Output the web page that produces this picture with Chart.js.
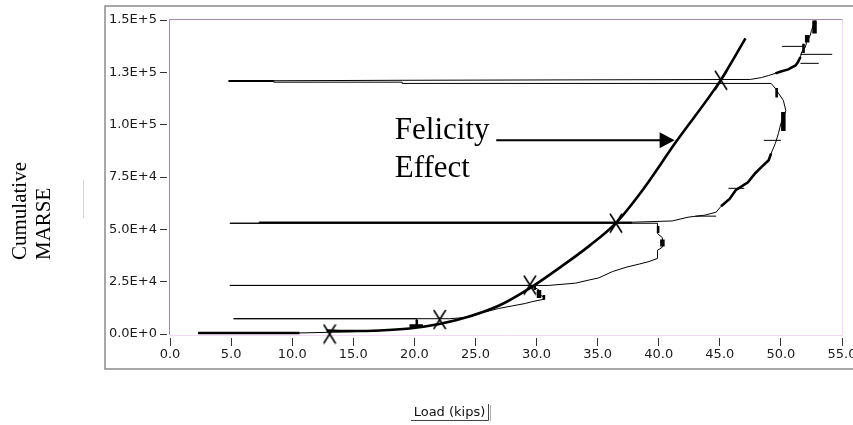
<!DOCTYPE html>
<html>
<head>
<meta charset="utf-8">
<script src="https://cdn.jsdelivr.net/npm/chart.js@4.4.1/dist/chart.umd.min.js"></script>
<style>
  html, body { margin: 0; padding: 0; background: #fff; }
  #wrap { width: 853px; height: 425px; }
</style>
</head>
<body>
<div id="wrap"><canvas id="chartMarse" width="853" height="425"></canvas></div>
<script>
// ticks
const loadTicks = [0, 5, 10, 15, 20, 25, 30, 35, 40, 45, 50, 55];
const marseTicks = [0, 25000, 50000, 75000, 100000, 125000, 150000];

// curva de efecto Felicity [carga, MARSE]
const felicityCurve = [
  [12.82, 1670], [14.69, 1430], [17.14, 1670], [19.59, 2620], [22.04, 4770],
  [24.49, 8350], [26.94, 13590], [29.39, 21700], [31.84, 31480], [34.29, 41980],
  [36.49, 52950], [38.61, 68210], [41.39, 91580], [45.06, 121160], [47.1, 141200]
];

// marcas X
const felicityMarks = [[13.06, 0], [22.07, 6900], [29.45, 23400], [36.5, 52950], [45.1, 121200]];

// MARSE acumulado (carga / descarga)
const aePath = [
  [2.3, 500], [10.6, 500], [13, 800], [15, 1100], [17.5, 1700], [19.6, 2600], [20.2, 3300],
  [20.2, 7300], [5.2, 7300], [22.9, 7300], [24.0, 7800], [24.7, 8600], [25.6, 10300],
  [25.9, 10700], [26.9, 12200], [28.0, 13400], [29.1, 14600], [29.6, 15400], [30.6, 16600],
  [30.6, 17600], [30.2, 19000], [30.2, 21000], [29.8, 22400], [29.6, 23200], [4.9, 23200],
  [31.0, 23200], [33.2, 24300], [34.3, 25800], [35.1, 26800], [36.2, 29800], [37.4, 32000],
  [38.4, 33400], [39.2, 34600], [39.9, 36100], [39.9, 40000], [40.3, 41500], [40.3, 46000],
  [39.9, 48000], [39.9, 52900], [4.9, 52900], [7.3, 52900], [7.3, 53400], [37.8, 53400],
  [41.1, 54000], [42.4, 55800], [43.8, 56800], [44.7, 58200], [45.1, 61000], [45.8, 64500],
  [46.3, 68700], [47.3, 72500], [47.9, 76800], [48.4, 79700], [49.0, 83000], [49.2, 86300],
  [49.55, 91100], [49.8, 95900], [50.0, 100600], [50.4, 106800], [50.2, 111600], [49.8, 115000],
  [49.55, 117300], [49.2, 119700], [19.0, 119700], [19.0, 120300], [8.5, 120300], [8.5, 120900],
  [4.8, 120900], [19.0, 121200], [47.5, 121600], [48.4, 122500], [49.0, 123500], [49.55, 124500],
  [50.0, 125400], [50.6, 126400], [51.2, 128300], [51.4, 129900], [51.6, 132300], [51.7, 134700],
  [52.0, 137000], [52.1, 139400], [52.4, 142600], [52.5, 145000], [52.65, 147400], [52.8, 149800]
];

// tramos gruesos (null = corte)
const boldRuns = [
  [7.3, 53150], [37.8, 53150], null, [4.8, 120900], [8.5, 120900]
];
const holdRuns = [
  [2.3, 500], [10.6, 500], null, [20.2, 3600], [20.2, 6800], null, [19.6, 4000], [20.7, 4000], null,
  [30.6, 16400], [30.6, 18600], null, [29.85, 21000], [29.85, 22900], null,
  [39.95, 48200], [39.95, 51600], null, [49.65, 113000], [49.65, 117500], null,
  [51.85, 134200], [51.85, 138600], null,
  [45.1, 61000], [45.8, 64500], [46.3, 68700], [47.3, 72500], [47.9, 76800], [48.4, 79700], [49.0, 83000], [49.2, 86300], null,
  [49.55, 124500], [50.0, 125400], [50.6, 126400], [51.2, 128300], [51.4, 129900], [51.6, 132300]
];
const heavyRuns = [
  [30.2, 17200], [30.2, 21000], null, [40.3, 41800], [40.3, 45200], null,
  [50.2, 97000], [50.2, 106000], null, [52.15, 139300], [52.15, 142800], null,
  [52.75, 143500], [52.75, 149800]
];
const spikeRuns = [
  [43.0, 56300], [44.7, 56300], null, [45.7, 69600], [47.0, 69600], null,
  [48.6, 92500], [50.0, 92500], null, [50.1, 137400], [51.8, 137400], null,
  [51.6, 133600], [54.2, 133600], null, [51.6, 129300], [53.1, 129300]
];

// anotacion
const noteLines = ['Felicity', 'Effect'];
const noteAt = [18.4, 93000];
const arrowFrom = [26.7, 92500];
const arrowTo = [41.3, 92500];

const toPoints = arr => arr.map(p => p ? { x: p[0], y: p[1] } : { x: 0, y: null });

// marca X alargada
const markX = document.createElement('canvas');
markX.width = 14; markX.height = 21;
(function () {
  const c = markX.getContext('2d');
  c.strokeStyle = '#000';
  c.lineWidth = 1.6;
  c.beginPath();
  c.moveTo(1, 1); c.lineTo(13, 20);
  c.moveTo(13, 1); c.lineTo(1, 20);
  c.stroke();
})();

const decoracion = {
  id: 'decoracion',
  beforeDraw(chart) {
    const ctx = chart.ctx;
    const a = chart.chartArea;
    ctx.save();
    ctx.fillStyle = '#fff';
    ctx.fillRect(0, 0, chart.width, chart.height);
    // marco exterior
    ctx.strokeStyle = '#8c8c8c';
    ctx.lineWidth = 1.5;
    ctx.beginPath();
    ctx.moveTo(853, 6); ctx.lineTo(105, 6); ctx.lineTo(105, 369); ctx.lineTo(853, 369);
    ctx.stroke();
    ctx.strokeStyle = '#d4d4d4';
    ctx.lineWidth = 1;
    ctx.beginPath(); ctx.moveTo(83.5, 180); ctx.lineTo(83.5, 218); ctx.stroke();
    // marco del grafico
    ctx.strokeStyle = '#f3d9f3';
    ctx.beginPath();
    ctx.moveTo(a.left, a.bottom + 1.5); ctx.lineTo(a.right + 0.5, a.bottom + 1.5); ctx.lineTo(a.right + 0.5, a.top - 0.5);
    ctx.stroke();
    ctx.strokeStyle = '#9d8db0';
    ctx.beginPath();
    ctx.moveTo(a.left - 0.5, a.bottom + 1); ctx.lineTo(a.left - 0.5, a.top - 0.5); ctx.lineTo(a.right + 0.5, a.top - 0.5);
    ctx.stroke();
    // titulo eje y
    ctx.fillStyle = '#000';
    ctx.font = '21px "Liberation Serif"';
    ctx.textAlign = 'left';
    ctx.textBaseline = 'alphabetic';
    [['Cumulative', 26], ['MARSE', 50]].forEach(([t, x]) => {
      ctx.save();
      ctx.translate(x, 260);
      ctx.rotate(-Math.PI / 2);
      ctx.fillText(t, 0, 0);
      ctx.restore();
    });
    // titulo eje x
    ctx.font = '13px "DejaVu Sans"';
    ctx.textAlign = 'center';
    ctx.textBaseline = 'middle';
    ctx.fillStyle = '#111';
    ctx.fillText('Load (kips)', 449.5, 413);
    ctx.strokeStyle = '#444';
    ctx.beginPath();
    ctx.moveTo(411, 420.5); ctx.lineTo(488.5, 420.5); ctx.lineTo(488.5, 404);
    ctx.stroke();
    ctx.strokeStyle = '#b0b0b0';
    ctx.beginPath(); ctx.moveTo(490.5, 405); ctx.lineTo(490.5, 421); ctx.stroke();
    ctx.restore();
  },
  afterDatasetsDraw(chart) {
    const ctx = chart.ctx;
    const xs = chart.scales.x, ys = chart.scales.y;
    ctx.save();
    ctx.fillStyle = '#000';
    ctx.font = '31px "Liberation Serif"';
    ctx.textAlign = 'left';
    ctx.textBaseline = 'alphabetic';
    const tx = xs.getPixelForValue(noteAt[0]);
    const ty = ys.getPixelForValue(noteAt[1]);
    noteLines.forEach((t, i) => ctx.fillText(t, tx, ty + i * 38));
    // flecha
    const x1 = xs.getPixelForValue(arrowFrom[0]);
    const x2 = xs.getPixelForValue(arrowTo[0]);
    const y = ys.getPixelForValue(arrowTo[1]);
    ctx.strokeStyle = '#000';
    ctx.lineWidth = 2;
    ctx.beginPath(); ctx.moveTo(x1, y); ctx.lineTo(x2 - 13, y); ctx.stroke();
    ctx.beginPath();
    ctx.moveTo(x2, y); ctx.lineTo(x2 - 15, y - 8); ctx.lineTo(x2 - 15, y + 8); ctx.closePath();
    ctx.fill();
    ctx.restore();
  }
};

const lineSet = (data, width) => ({
  data: toPoints(data),
  showLine: true,
  borderColor: '#000',
  backgroundColor: '#000',
  borderWidth: width,
  pointRadius: 0,
  tension: 0,
  spanGaps: false,
  clip: false
});

const tickFont = { family: 'DejaVu Sans', size: 13 };

new Chart(document.getElementById('chartMarse').getContext('2d'), {
  type: 'scatter',
  data: {
    datasets: [
      lineSet(aePath, 1),
      lineSet(boldRuns, 2),
      lineSet(holdRuns, 2.6),
      lineSet(heavyRuns, 4.5),
      lineSet(spikeRuns, 1),
      Object.assign(lineSet(felicityCurve, 2.6), { tension: 0.4, cubicInterpolationMode: 'monotone' }),
      {
        data: toPoints(felicityMarks),
        showLine: false,
        pointStyle: markX,
        pointRadius: 10,
        clip: false
      }
    ]
  },
  options: {
    responsive: false,
    animation: false,
    events: [],
    layout: { padding: { left: 0, right: 9, top: 20, bottom: 0 } },
    plugins: {
      legend: { display: false },
      tooltip: { enabled: false }
    },
    scales: {
      x: {
        type: 'linear',
        min: 0,
        max: 55,
        afterBuildTicks: s => { s.ticks = loadTicks.map(v => ({ value: v })); },
        ticks: {
          callback: v => v.toFixed(1),
          font: tickFont,
          color: '#1a1a1a',
          padding: 1,
          maxRotation: 0,
          autoSkip: false
        },
        grid: { drawOnChartArea: false, tickLength: 12, color: '#333', tickBorderDash: [0, 4, 8, 0] },
        border: { display: false },
        afterFit: s => { s.height = 91; s.paddingLeft = 0; s.paddingRight = 0; }
      },
      y: {
        type: 'linear',
        min: 0,
        max: 150000,
        afterBuildTicks: s => { s.ticks = marseTicks.map(v => ({ value: v })); },
        ticks: {
          callback: v => v.toExponential(1).replace('e', 'E'),
          font: tickFont,
          color: '#1a1a1a',
          padding: 3
        },
        grid: { drawOnChartArea: false, tickLength: 10, color: '#333', tickBorderDash: [7, 3] },
        border: { display: false },
        afterFit: s => { s.width = 170; }
      }
    }
  },
  plugins: [decoracion]
});
</script>
</body>
</html>
